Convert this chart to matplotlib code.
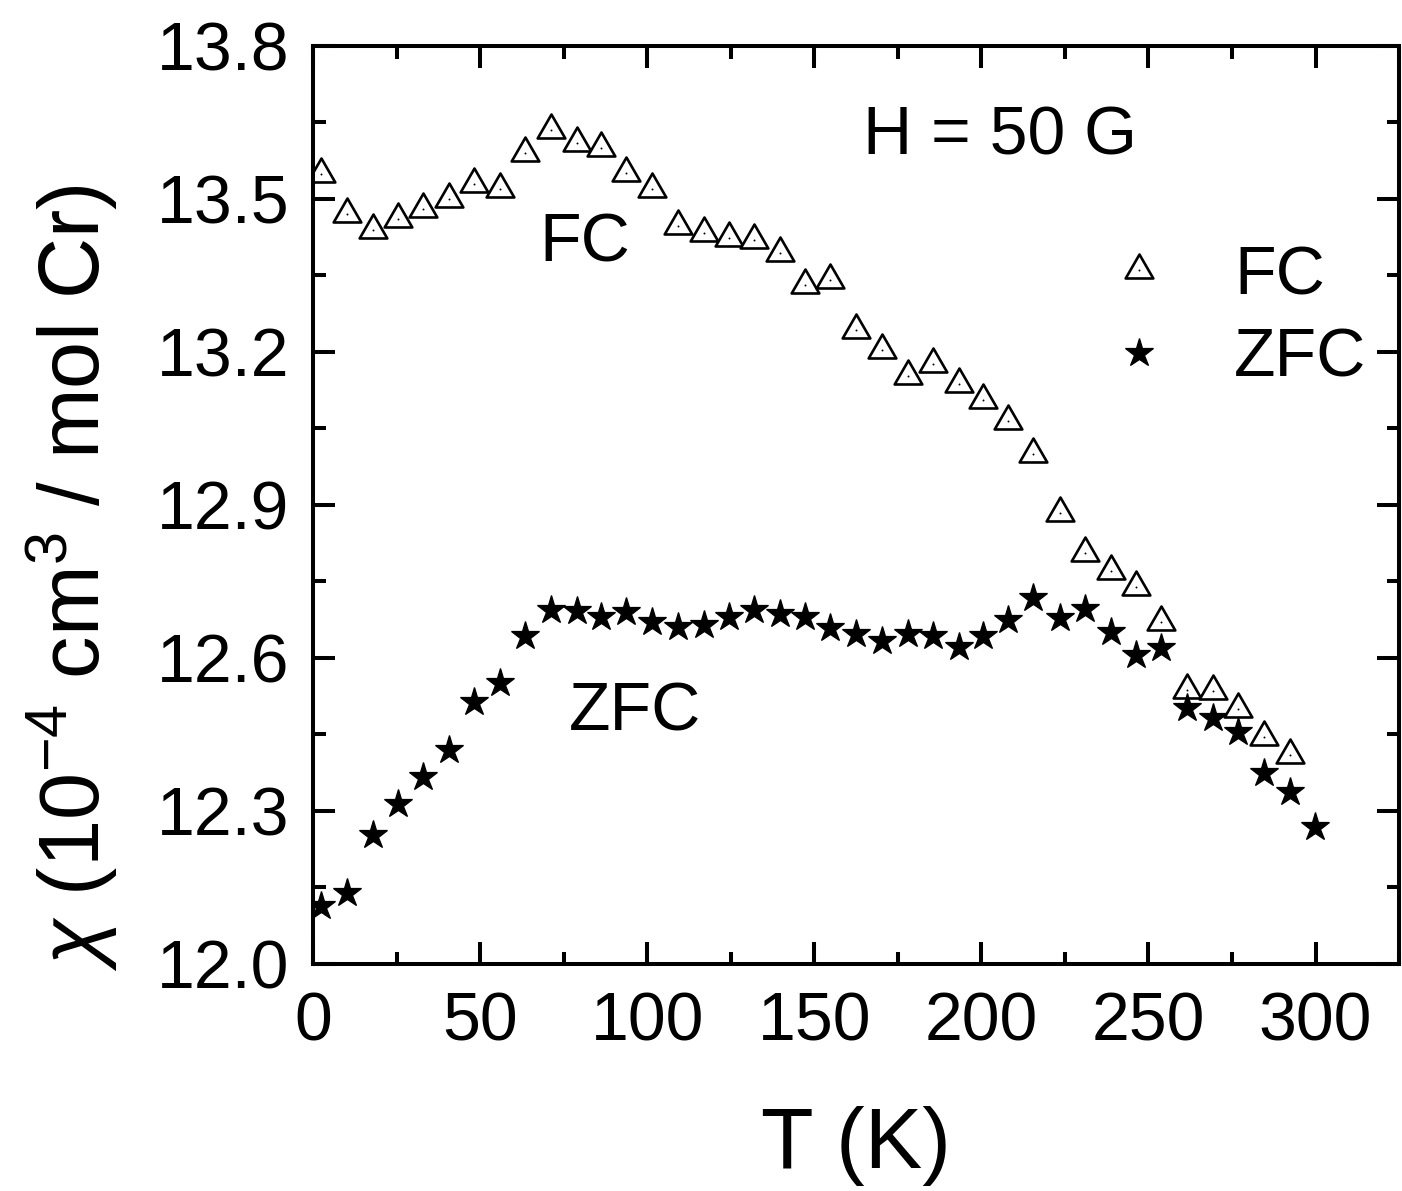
import numpy as np
import matplotlib
matplotlib.use('Agg')
import matplotlib.pyplot as plt
from matplotlib.path import Path
from matplotlib.markers import MarkerStyle

plt.rcParams['font.family'] = ['Liberation Sans', 'DejaVu Sans']
plt.rcParams['mathtext.fontset'] = 'custom'
plt.rcParams['mathtext.rm'] = 'Liberation Sans'
plt.rcParams['mathtext.it'] = 'Liberation Sans:italic'

# temperatures (K)
temp = [2.4, 10.1, 17.9, 25.3, 33.0, 40.8, 48.2, 56.0, 63.4, 71.1,
        78.9, 86.3, 93.8, 101.5, 109.2, 117.0, 124.4, 132.1, 139.6, 147.3,
        154.8, 162.5, 170.2, 178.0, 185.4, 193.2, 200.6, 208.0, 215.5, 223.5,
        231.0, 238.7, 246.4, 253.9, 261.6, 269.3, 276.8, 284.5, 292.3, 299.7]

# field cooled (one point fewer than ZFC)
chi_fc = [13.549, 13.47, 13.44, 13.46, 13.48, 13.50, 13.53, 13.52, 13.59, 13.635,
          13.61, 13.60, 13.55, 13.52, 13.447, 13.433, 13.423, 13.419, 13.394, 13.331,
          13.341, 13.243, 13.204, 13.153, 13.177, 13.138, 13.106, 13.065, 13.00, 12.885,
          12.805, 12.77, 12.74, 12.67, 12.537, 12.535, 12.50, 12.445, 12.41]

# zero field cooled
chi_zfc = [12.114, 12.14, 12.253, 12.314, 12.367, 12.42, 12.513, 12.55, 12.643, 12.695,
           12.693, 12.68, 12.69, 12.67, 12.66, 12.664, 12.680, 12.695, 12.687, 12.680,
           12.658, 12.648, 12.633, 12.648, 12.644, 12.621, 12.644, 12.675, 12.718, 12.678,
           12.696, 12.651, 12.606, 12.619, 12.502, 12.482, 12.455, 12.375, 12.338, 12.269]

t_fc = temp[:len(chi_fc)]

# triangle centred on its centroid (the dot in the original sits there)
tri = MarkerStyle(Path([(0, 1), (-0.866, -0.5), (0.866, -0.5), (0, 0)],
                       [Path.MOVETO, Path.LINETO, Path.LINETO, Path.CLOSEPOLY]),
                  joinstyle='miter')

fig = plt.figure(figsize=(14.02, 11.91), dpi=100)
ax = fig.add_axes([0.2233, 0.1906, 0.7746, 0.7708])

fc_line, = ax.plot(t_fc, chi_fc, ls='none', marker=tri, ms=23, mfc='white',
                   mec='black', mew=1.9)
fc_dot, = ax.plot(t_fc, chi_fc, ls='none', marker='o', ms=1.4, color='black', mew=0)
zfc_line, = ax.plot(temp, chi_zfc, ls='none', marker='*', ms=21, color='black', mew=0.9)

ax.set_xlim(0, 323.2)
ax.set_ylim(12.0, 13.8)
ax.set_xticks(np.arange(0, 301, 50))
ax.set_xticks(np.arange(0, 326, 25), minor=True)
ax.set_yticks(np.arange(12.0, 13.81, 0.3))
ax.set_yticks(np.arange(12.0, 13.81, 0.15), minor=True)
ax.yaxis.set_major_formatter(matplotlib.ticker.FormatStrFormatter('%.1f'))

for s in ax.spines.values():
    s.set_linewidth(2.9)
ax.tick_params(which='both', direction='in', top=True, right=True, width=2.9)
ax.tick_params(which='major', length=16, labelsize=49)
ax.tick_params(which='minor', length=9)
ax.tick_params(axis='x', pad=19)
ax.tick_params(axis='y', pad=17)

ax.set_xlabel('T (K)', fontsize=62)
ax.xaxis.set_label_coords(0.5, -0.155)
ax.set_ylabel(r'$\chi$ (10$^{-4}$ cm$^{3}$ / mol Cr)', fontsize=61)
ax.yaxis.set_label_coords(-0.178, 0.421)

ax.text(164.5, 13.588, 'H = 50 G', fontsize=49, ha='left', va='baseline')
ax.text(67.6, 13.378, 'FC', fontsize=49, ha='left', va='baseline')
ax.text(76.5, 12.4585, 'ZFC', fontsize=49, ha='left', va='baseline')

ax.legend([(fc_line, fc_dot), zfc_line], ['FC', 'ZFC'], loc='upper left',
          bbox_to_anchor=(0.729, 0.784), frameon=False, fontsize=49,
          handlelength=1.0, handletextpad=0.9, labelspacing=0.27,
          borderpad=0, borderaxespad=0, numpoints=1)

fig.savefig('out.png', dpi=100)
